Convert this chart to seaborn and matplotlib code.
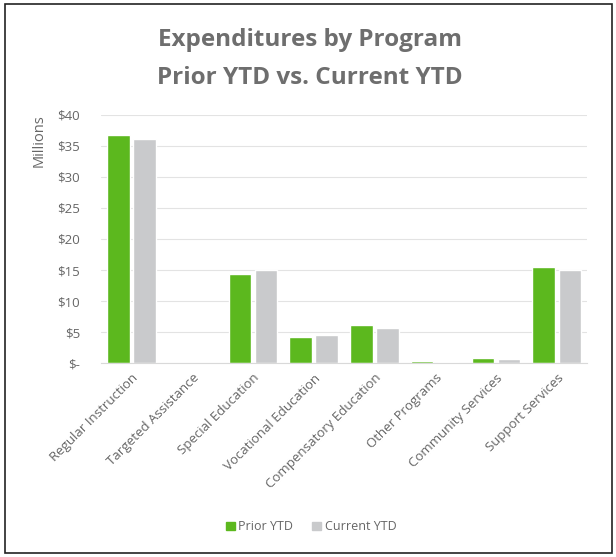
import pandas as pd
import matplotlib.pyplot as plt
import seaborn as sns
from matplotlib.patches import Rectangle

# Expenditures in millions of dollars
programs = ['Regular Instruction', 'Targeted Assistance', 'Special Education',
            'Vocational Education', 'Compensatory Education', 'Other Programs',
            'Community Services', 'Support Services']
prior_ytd = [36.8, 0.0, 14.4, 4.2, 6.1, 0.3, 0.8, 15.5]
current_ytd = [36.1, 0.0, 15.0, 4.5, 5.6, 0.2, 0.7, 15.0]
y_ticks = [0, 5, 10, 15, 20, 25, 30, 35, 40]
y_tick_labels = ['$-', '$5', '$10', '$15', '$20', '$25', '$30', '$35', '$40']

df = pd.DataFrame({
    'program': programs * 2,
    'amount': prior_ytd + current_ytd,
    'period': ['Prior YTD'] * len(programs) + ['Current YTD'] * len(programs),
})

palette = {'Prior YTD': '#5cb81e', 'Current YTD': '#c9cacc'}
text_color = '#666666'

sns.set_style('white')
plt.rcParams['font.family'] = ['Open Sans', 'DejaVu Sans']

fig = plt.figure(figsize=(6.16, 5.57), dpi=100)
ax = fig.add_axes([0.164, 0.348, 0.789, 0.446])

sns.barplot(data=df, x='program', y='amount', hue='period', palette=palette,
            width=0.86, gap=0.14, saturation=1, ax=ax, legend=False)

ax.set_ylim(0, 40)
ax.set_yticks(y_ticks)
ax.set_yticklabels(y_tick_labels, color=text_color, fontsize=9.5)
ax.set_xticks(range(len(programs)))
ax.set_xticklabels(programs, rotation=45, ha='right', rotation_mode='anchor',
                   color=text_color, fontsize=9.5)
ax.tick_params(axis='x', length=0, pad=6)
ax.tick_params(axis='y', length=0, pad=15)
ax.yaxis.grid(True, color='#e3e3e3', linewidth=0.8)
ax.set_axisbelow(True)
for s in ['top', 'right', 'left']:
    ax.spines[s].set_visible(False)
ax.spines['bottom'].set_color('#d9d9d9')
ax.set_xlabel('')
ax.set_ylabel('Millions', color=text_color, fontsize=10.5, loc='top', labelpad=8)

fig.text(0.503, 0.928, 'Expenditures by Program', ha='center', va='center',
         fontsize=17.5, fontweight='bold', color='#6e6e6e')
fig.text(0.503, 0.860, 'Prior YTD vs. Current YTD', ha='center', va='center',
         fontsize=17.5, fontweight='bold', color='#6e6e6e')

# legend at the bottom
handles = [Rectangle((0, 0), 1, 1, color=palette[k]) for k in ['Prior YTD', 'Current YTD']]
fig.legend(handles, ['Prior YTD', 'Current YTD'], loc='center', bbox_to_anchor=(0.505, 0.054),
           ncol=2, frameon=False, fontsize=9, handlelength=0.7, handleheight=0.7,
           handletextpad=0.3, columnspacing=1.5, labelcolor=text_color)

# outer border
fig.patches.append(Rectangle((0.008, 0.008), 0.986, 0.984, transform=fig.transFigure,
                             fill=False, edgecolor='#222222', linewidth=1.2))

fig.savefig('out.png', dpi=100)
